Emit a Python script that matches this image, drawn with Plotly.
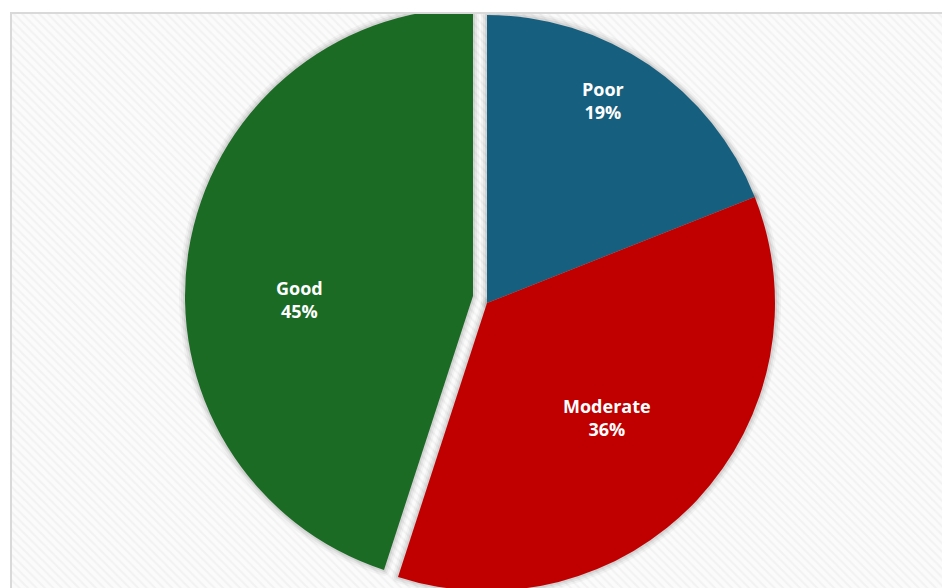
import math
import plotly.graph_objects as go

# ---- data ----
categories = ["Poor", "Moderate", "Good"]
shares = [19, 36, 45]
slice_colors = ["#175f7e", "#c00000", "#1b6b25"]

# ---- label placement (style): angle clockwise from 12 o'clock, fraction of radius ----
label_angle = [29.9, 133.7, 268.8]
label_frac = [0.81, 0.576, 0.603]

W, H = 950, 588
OFF = 8          # page body margin
R = 288

def dom(cx, cy, r):
    cx, cy = cx - OFF, cy - OFF
    return dict(x=[(cx - r) / W, (cx + r) / W],
                y=[max(0.0, 1 - (cy + r) / H), min(1.0, 1 - (cy - r) / H)])

def to_paper(px, py):
    return (px - OFF) / W, 1 - (py - OFF) / H

centerA = (487, 303)   # Poor + Moderate
centerB = (473, 296)   # Good (exploded)
domA = dom(*centerA, R)
domB = dom(*centerB, R)

fig = go.Figure()

# hatched chart-area background
x0p, y0p = to_paper(12, 14)
fig.add_trace(go.Scatter(
    x=[x0p, 1.2, 1.2, x0p, x0p],
    y=[y0p, y0p, -0.2, -0.2, y0p],
    mode="lines", fill="toself", line=dict(width=0),
    fillcolor="#fbfbfb",
    fillpattern=dict(shape="\\", fgcolor="#e9e9e9", bgcolor="#fbfbfb",
                     size=6, solidity=0.35),
    hoverinfo="skip", showlegend=False,
))

def shadow(d, mask):
    cols = ["rgba(0,0,0,0)"] * len(categories)
    out = []
    for w, a in [(12, 0.035), (8, 0.05), (4, 0.07)]:
        lc = [f"rgba(0,0,0,{a})" if m else "rgba(0,0,0,0)" for m in mask]
        out.append(go.Pie(
            labels=categories, values=shares, sort=False, direction="clockwise",
            domain=d, marker=dict(colors=cols, line=dict(color=lc, width=w)),
            textinfo="none", hoverinfo="skip", showlegend=False))
    return out

for t in shadow(domB, [False, False, True]):
    fig.add_trace(t)
for t in shadow(domA, [True, True, False]):
    fig.add_trace(t)

fig.add_trace(go.Pie(
    labels=categories, values=shares, sort=False, direction="clockwise",
    domain=domA,
    marker=dict(colors=[slice_colors[0], slice_colors[1], "rgba(0,0,0,0)"],
                line=dict(width=0)),
    textinfo="none", hoverinfo="skip", showlegend=False,
))
fig.add_trace(go.Pie(
    labels=categories, values=shares, sort=False, direction="clockwise",
    domain=domB,
    marker=dict(colors=["rgba(0,0,0,0)", "rgba(0,0,0,0)", slice_colors[2]],
                line=dict(width=0)),
    textinfo="none", hoverinfo="skip", showlegend=False,
))

# data labels
total = sum(shares)
annotations = []
for i, (cat, v) in enumerate(zip(categories, shares)):
    c = centerB if cat == "Good" else centerA
    a = math.radians(label_angle[i])
    d = label_frac[i] * R
    px = c[0] + d * math.sin(a)
    py = c[1] - d * math.cos(a)
    xp, yp = to_paper(px, py)
    annotations.append(dict(
        x=xp, y=yp, xref="paper", yref="paper", showarrow=False,
        xanchor="center", yanchor="middle",
        text=f"{cat}<br>{round(100 * v / total)}%",
        font=dict(color="white", size=18, family="Open Sans", weight="bold"),
    ))

bx, by = to_paper(11, 13)
shapes = [
    # white outside the chart area
    dict(type="rect", xref="paper", yref="paper", x0=-0.1, x1=1.1, y0=by, y1=1.1,
         fillcolor="white", line=dict(width=0), layer="above"),
    dict(type="rect", xref="paper", yref="paper", x0=-0.1, x1=bx, y0=-0.1, y1=1.1,
         fillcolor="white", line=dict(width=0), layer="above"),
    # chart-area border
    dict(type="rect", xref="paper", yref="paper", x0=bx, x1=1.05,
         y0=-0.05, y1=by, line=dict(color="#d9d9d9", width=2), layer="above"),
]

fig.update_layout(
    width=W, height=H,
    margin=dict(l=0, r=0, t=0, b=0),
    paper_bgcolor="white", plot_bgcolor="rgba(0,0,0,0)",
    xaxis=dict(range=[0, 1], domain=[0, 1], visible=False, fixedrange=True),
    yaxis=dict(range=[0, 1], domain=[0, 1], visible=False, fixedrange=True),
    shapes=shapes,
    annotations=annotations,
    showlegend=False,
)

fig.write_html("out.html")
